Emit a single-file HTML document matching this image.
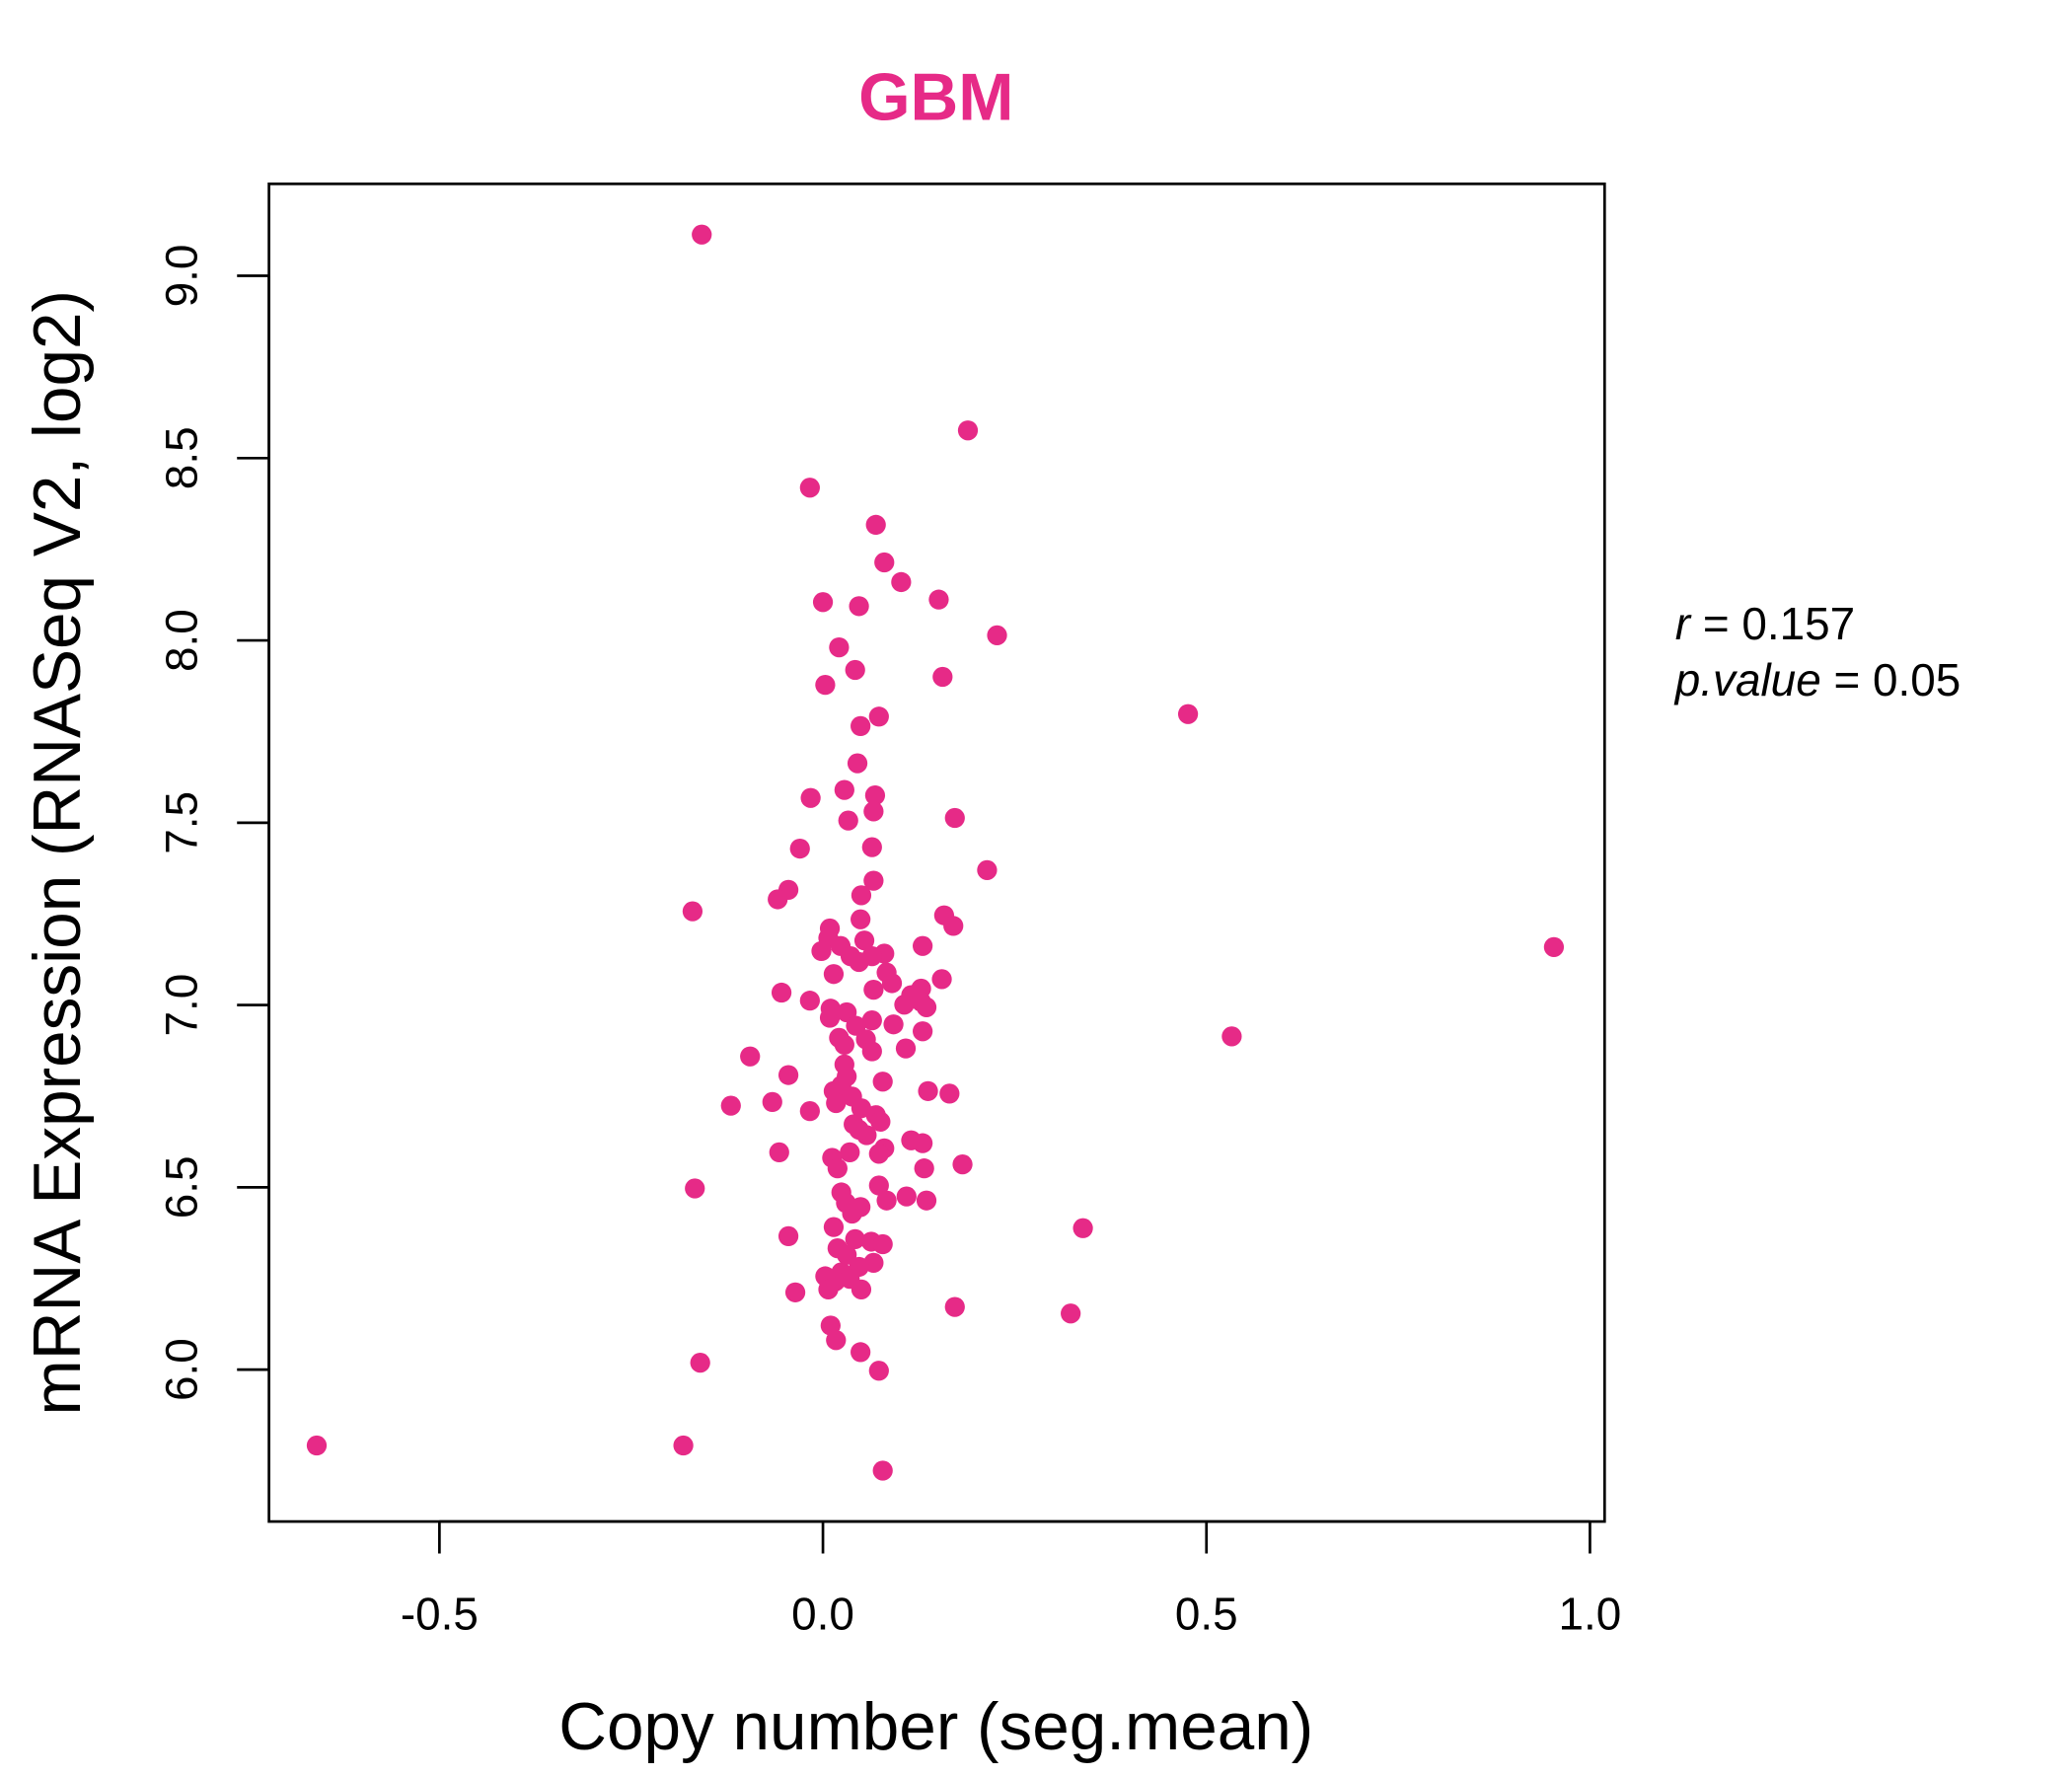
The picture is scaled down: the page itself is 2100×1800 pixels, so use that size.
<!DOCTYPE html>
<html><head><meta charset="utf-8"><style>html,body{margin:0;padding:0;background:#fff}svg{display:block}</style></head>
<body>
<svg id="chart" width="2100" height="1800" viewBox="0 0 1556 1333" preserveAspectRatio="none" xmlns="http://www.w3.org/2000/svg" font-family="Liberation Sans, sans-serif">
<text x="703" y="90" text-anchor="middle" font-size="50" font-weight="bold" fill="#E62A87">GBM</text>
<rect x="202" y="138" width="1003" height="1004" fill="none" stroke="#000" stroke-width="2"/>
<g id="xaxis"></g>
<g id="yaxis"></g>
<g id="points"></g>
<text x="703" y="1313" text-anchor="middle" font-size="50">Copy number (seg.mean)</text>
<text transform="translate(60,640) rotate(-90)" text-anchor="middle" font-size="50">mRNA Expression (RNASeq V2, log2)</text>
<text x="1258" y="480" font-size="34"><tspan font-style="italic">r</tspan> = 0.157</text>
<text x="1258" y="522" font-size="34"><tspan font-style="italic">p.value</tspan> = 0.05</text>
</svg>
<script>
const xTicks = [-0.5, 0.0, 0.5, 1.0];
const xTickLabels = ["-0.5", "0.0", "0.5", "1.0"];
const yTicks = [6.0, 6.5, 7.0, 7.5, 8.0, 8.5, 9.0];
const yTickLabels = ["6.0", "6.5", "7.0", "7.5", "8.0", "8.5", "9.0"];
const copyNumber = [-0.158,0.189,-0.017,0.069,0.080,0.102,0.151,0.0,0.047,0.227,0.021,0.042,0.003,0.156,0.476,0.073,0.049,0.045,-0.016,0.028,0.068,0.066,0.033,0.172,-0.030,0.064,0.214,0.066,-0.045,0.050,-0.059,-0.170,0.158,0.049,0.170,0.009,0.007,0.054,0.023,0.130,-0.002,0.080,0.036,0.064,0.047,0.083,0.014,0.155,0.090,0.066,0.128,-0.054,0.115,0.128,-0.017,0.106,0.010,0.135,0.031,0.009,0.064,0.043,0.092,0.130,0.021,0.056,0.028,0.064,0.108,0.533,-0.095,0.028,-0.045,0.031,0.078,0.024,0.137,0.165,0.014,0.038,-0.066,-0.120,-0.017,0.017,0.050,0.069,0.040,0.075,0.057,0.047,0.115,0.130,0.080,-0.057,0.012,0.035,0.073,0.019,0.132,0.182,-0.167,0.073,0.024,0.109,0.083,0.135,0.030,0.049,0.038,0.014,0.339,-0.045,0.042,0.063,0.078,0.019,0.031,0.066,0.047,0.024,0.003,0.035,0.016,0.007,0.050,-0.036,0.172,0.323,0.010,0.017,0.049,-0.160,0.073,-0.660,-0.182,0.078,0.953];
const expression = [9.113,8.576,8.419,8.317,8.214,8.160,8.112,8.105,8.094,8.014,7.981,7.919,7.878,7.900,7.798,7.791,7.765,7.663,7.568,7.590,7.575,7.531,7.506,7.513,7.429,7.433,7.370,7.341,7.316,7.301,7.290,7.257,7.246,7.235,7.217,7.210,7.184,7.177,7.162,7.162,7.148,7.141,7.134,7.134,7.118,7.089,7.085,7.071,7.060,7.042,7.045,7.034,7.027,7.009,7.012,7.001,6.990,6.994,6.980,6.965,6.958,6.943,6.947,6.928,6.910,6.906,6.891,6.873,6.881,6.914,6.859,6.837,6.808,6.804,6.790,6.779,6.764,6.757,6.764,6.749,6.734,6.724,6.709,6.731,6.717,6.698,6.673,6.680,6.643,6.658,6.629,6.621,6.607,6.596,6.581,6.596,6.592,6.552,6.552,6.563,6.497,6.505,6.486,6.475,6.464,6.464,6.457,6.446,6.428,6.391,6.388,6.366,6.358,6.351,6.344,6.333,6.315,6.293,6.282,6.267,6.256,6.249,6.242,6.220,6.220,6.212,6.172,6.154,6.121,6.081,6.048,6.019,5.997,5.792,5.792,5.723,7.159];

const NS = "http://www.w3.org/2000/svg";
function xScale(v){ return 618 + v * 576; }
function yScale(v){ return 207 + (9 - v) * 273.67; }

const xg = document.getElementById('xaxis');
const xl = document.createElementNS(NS,'line');


xl.setAttribute('x1', xScale(xTicks[0])); xl.setAttribute('x2', xScale(xTicks[xTicks.length-1]));
xl.setAttribute('y1',1142); xl.setAttribute('y2',1142); xl.setAttribute('stroke','#000'); xl.setAttribute('stroke-width','2');
xg.appendChild(xl);
xTicks.forEach((t,i)=>{
  const l = document.createElementNS(NS,'line');
  
  
  l.setAttribute('x1',xScale(t)); l.setAttribute('x2',xScale(t));
  l.setAttribute('y1',1142); l.setAttribute('y2',1166); l.setAttribute('stroke','#000'); l.setAttribute('stroke-width','2');
  xg.appendChild(l);
  const tx = document.createElementNS(NS,'text');
  
  
  tx.setAttribute('x',xScale(t)); tx.setAttribute('y',1223);
  tx.setAttribute('text-anchor','middle'); tx.setAttribute('font-size','34');
  tx.textContent = xTickLabels[i];
  xg.appendChild(tx);
});

const yg = document.getElementById('yaxis');
const yl = document.createElementNS(NS,'line');


yl.setAttribute('x1',202); yl.setAttribute('x2',202);
yl.setAttribute('y1',yScale(yTicks[0])); yl.setAttribute('y2',yScale(yTicks[yTicks.length-1]));
yl.setAttribute('stroke','#000'); yl.setAttribute('stroke-width','2');
yg.appendChild(yl);
yTicks.forEach((t,i)=>{
  const l = document.createElementNS(NS,'line');
  
  
  l.setAttribute('x1',178); l.setAttribute('x2',202);
  l.setAttribute('y1',yScale(t)); l.setAttribute('y2',yScale(t)); l.setAttribute('stroke','#000'); l.setAttribute('stroke-width','2');
  yg.appendChild(l);
  const tx = document.createElementNS(NS,'text');
  
  
  tx.setAttribute('transform','translate(148,'+yScale(t)+') rotate(-90)');
  tx.setAttribute('text-anchor','middle'); tx.setAttribute('font-size','34');
  tx.textContent = yTickLabels[i];
  yg.appendChild(tx);
});

const pg = document.getElementById('points');
copyNumber.forEach((c,i)=>{
  const p = document.createElementNS(NS,'circle');
  
  
  p.setAttribute('cx',xScale(c)); p.setAttribute('cy',yScale(expression[i]));
  p.setAttribute('r',7.5); p.setAttribute('fill','#E62A87');
  pg.appendChild(p);
});
</script>
</body></html>
